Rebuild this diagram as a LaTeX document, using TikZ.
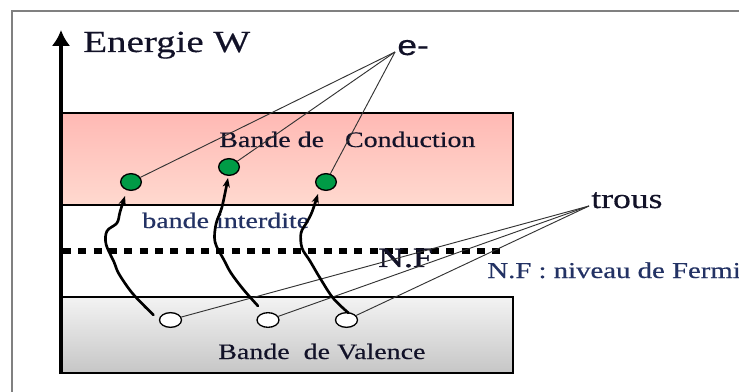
\documentclass[tikz,border=0pt]{standalone}
\usepackage{fontspec}
\setmainfont{Liberation Serif}
\newfontfamily\arialf{Liberation Sans}
\usetikzlibrary{shapes.geometric,arrows.meta,calc}
\definecolor{txtcol}{RGB}{18,18,40}
\definecolor{bluetxt}{RGB}{35,50,100}
\definecolor{condhaut}{RGB}{255,185,180}
\definecolor{condbas}{RGB}{255,217,207}
\definecolor{valhaut}{RGB}{243,243,243}
\definecolor{valbas}{RGB}{198,198,198}
\definecolor{vert}{RGB}{0,155,70}
\newcommand{\epais}{\addfontfeature{FakeBold=0.4}}
\tikzset{bandtxt/.style={inner sep=0pt,xscale=1.27,text=txtcol,anchor=base west}}
\tikzset{elec/.style={ellipse,draw,fill=vert,line width=1pt,minimum width=15.5pt,minimum height=12.5pt,inner sep=0pt}}
\tikzset{trou/.style={ellipse,draw,fill=white,line width=1pt,minimum width=16.5pt,minimum height=11pt,inner sep=0pt}}
\tikzset{fil/.style={line width=0.7pt,color=black!80}}
\tikzset{saut/.style={line width=2pt,-{Stealth[length=7pt,width=5.5pt]},line cap=round}}

\begin{document}
\begin{tikzpicture}[x=0.75pt,y=-0.75pt]
    \useasboundingbox (0,0) rectangle (739,392);
    \draw[gray,line width=0.8pt] (12,392) -- (12,11) -- (739,11);

    \draw[line width=1.3pt,top color=condhaut,bottom color=condbas] (61,113) rectangle (513,205);
    \draw[line width=1.3pt,top color=valhaut,bottom color=valbas] (61,297) rectangle (513,373);
    \draw[line width=4.5pt,dash pattern=on 6pt off 5.5pt] (63,251) -- (505,251);
    \draw[line width=2.4pt,-{Latex[length=12pt,width=14pt]}] (61,374) -- (61,30);

    \node[bandtxt,font=\fontsize{23}{23}\selectfont\epais] (titre) at (83,52) {Energie W};
    \node[bandtxt,font=\arialf\fontsize{21}{21}\selectfont\epais] (e) at (397,55) {e-};
    \node[bandtxt,font=\fontsize{21}{21}\selectfont\epais] (t) at (591,208) {trous};
    \node[bandtxt,font=\fontsize{16.5}{16.5}\selectfont\epais] (bc) at (219,147) {Bande de\ \ \ Conduction};
    \node[bandtxt,text=bluetxt,font=\fontsize{16.5}{16.5}\selectfont\epais] (bi) at (142,228) {bande interdite};
    \node[bandtxt,font=\fontsize{21}{21}\selectfont\addfontfeature{FakeBold=1}] (nf) at (378,267) {N.F};
    \node[bandtxt,text=bluetxt,font=\fontsize{17}{17}\selectfont\epais] (nfl) at (487,278) {N.F : niveau de Fermi};
    \node[bandtxt,font=\fontsize{16.5}{16.5}\selectfont\epais] (bv) at (218,359) {Bande\ \ de Valence};

    \node[elec] (e1) at (131,182) {};
    \node[elec] (e2) at (229,167) {};
    \node[elec] (e3) at (326,182) {};
    \node[trou] (h1) at (170.5,320) {};
    \node[trou] (h2) at (268,320) {};
    \node[trou] (h3) at (346.5,320) {};

    \coordinate (ep) at (395,52);
    \coordinate (tp) at (589,206);
    \foreach \n in {e1,e2,e3} \draw[fil] (ep) -- (\n);
    \foreach \n in {h1,h2,h3} \draw[fil] (tp) -- (\n);

    \draw[saut] plot[smooth,tension=0.55] coordinates {($(h1)+(-17,-5)$) (133,294) (119,274) (114,262) (106,244) (107,231) (117,223) (120,212) ($(e1)+(-6,14)$)};
    \draw[saut] plot[smooth,tension=0.55] coordinates {($(h2)+(-10,-14)$) (243,289) (231,273) (224,260) (215,242) (216,224) (222,207) ($(e2)+(-1,11)$)};
    \draw[saut] plot[smooth,tension=0.55] coordinates {($(h3)+(2,-7)$) (333,298) (320,278) (310,261) (302,248) (301,233) (307,222) (312,212) ($(e3)+(-8,12)$)};
\end{tikzpicture}
\end{document}
